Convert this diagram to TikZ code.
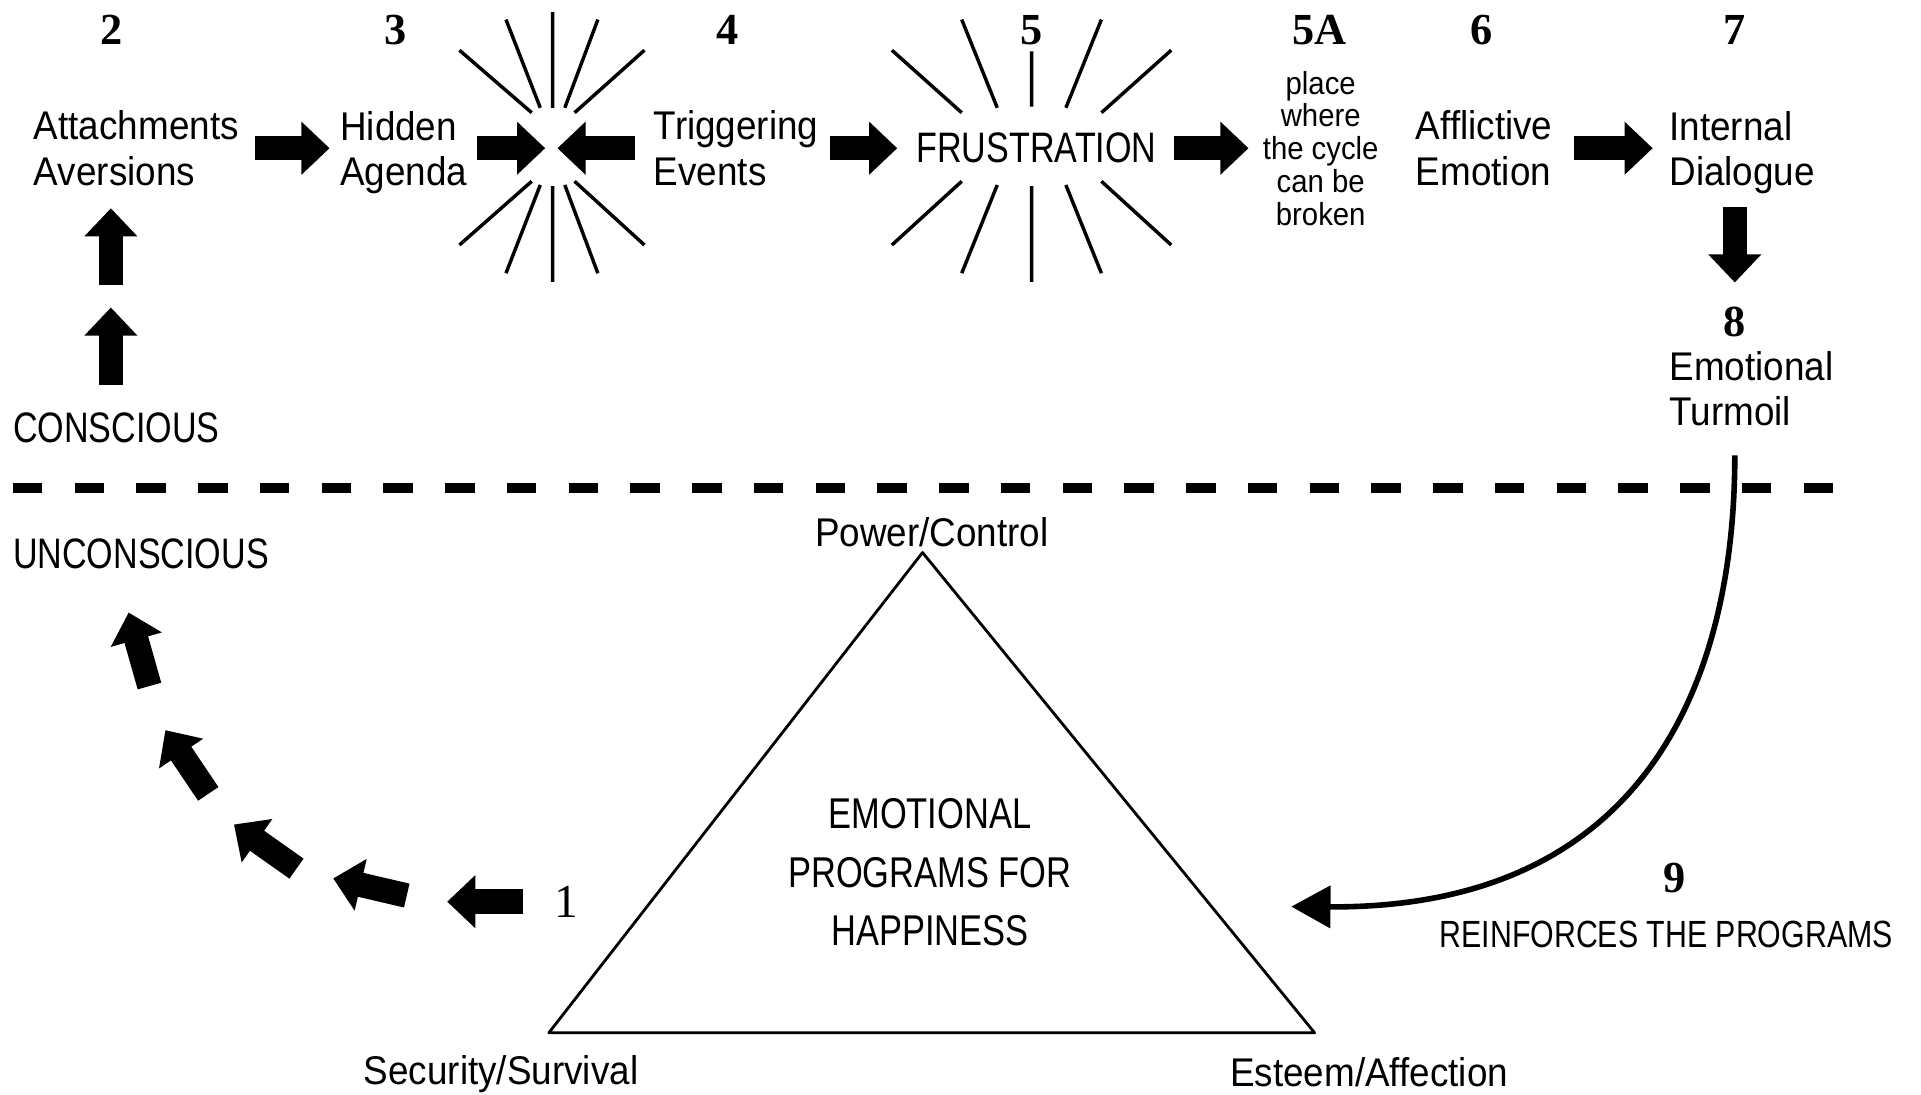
\documentclass[tikz,border=0pt]{standalone}
\usepackage{fontspec}
\setmainfont{Liberation Sans}[FakeStretch=0.92]
\newfontfamily\capfont{Liberation Sans}[FakeStretch=0.80]
\newfontfamily\numfont{Liberation Serif}
\usetikzlibrary{arrows.meta,calc}
\usepackage{tkz-euclide}
\definecolor{InkClr}{rgb}{0,0,0}

\begin{document}
\begin{tikzpicture}[
  lbl/.style={inner sep=0pt,anchor=west,align=left,font=\fontsize{9.3}{10.5}\selectfont},
  caplbl/.style={inner sep=0pt,font=\capfont\fontsize{9.9}{11}\selectfont},
  num/.style={inner sep=0pt,font=\numfont\bfseries\fontsize{10.3}{12}\selectfont},
  ray/.style={line width=.8pt,color=InkClr},
  bigarrow/.style={line width=2mm,color=InkClr,-{Triangle[length=2.3mm,width=4.2mm]}}]
\useasboundingbox (0,0) rectangle (15.68,-8.93);
\tkzSetUpLine[line width=.65pt,color=InkClr]

\tkzDefPoints{7.53/-4.51/P,4.48/-8.43/S,10.73/-8.43/E}
\tkzDefPoints{0.905/-3.14/U1,0.905/-2.51/U2,0.905/-2.33/U3,0.905/-1.70/U4}
\tkzDefPoints{4.27/-7.36/K1,3.65/-7.36/K2,3.32/-7.31/K3,2.72/-7.17/K4,2.42/-7.09/K5,1.91/-6.73/K6,1.70/-6.48/K7,1.35/-5.96/K8,1.22/-5.60/K9,1.05/-5.00/K10}
\coordinate (b1) at (4.51,-1.21);
\coordinate (T9) at (10.54,-7.40);
\coordinate (L1) at (0.106,-3.98);
\coordinate (L2) at (14.97,-3.98);

\node[num] (n2) at (0.91,-0.245) {2};
\node[num] (n3) at (3.225,-0.245) {3};
\node[num] (n4) at (5.94,-0.245) {4};
\node[num] (n5) at (8.42,-0.245) {5};
\node[num] (n5A) at (10.77,-0.245) {5A};
\node[num] (n6) at (12.09,-0.245) {6};
\node[num] (n7) at (14.16,-0.245) {7};
\node[num] (n8) at (14.16,-2.625) {8};
\node[num] (n9) at (13.665,-7.165) {9};
\node[num,font=\numfont\fontsize{11}{12}\selectfont] (n1) at (4.62,-7.36) {1};

\node[lbl] (att) at (0.27,-1.21) {Attachments\\Aversions};
\node[lbl] (hid) at (2.77,-1.245) {Hidden\\Agenda};
\node[lbl] (trig) at (5.33,-1.21) {Triggering\\Events};
\node[caplbl] (frus) at (8.46,-1.21) {FRUSTRATION};
\node[lbl,anchor=center,align=center,font=\fontsize{7.4}{7.6}\selectfont] (place) at (10.78,-1.21) {place\\where\\the cycle\\can be\\broken};
\node[lbl] (aff) at (11.55,-1.21) {Afflictive\\Emotion};
\node[lbl] (intd) at (13.62,-1.245) {Internal\\Dialogue};
\node[lbl] (turm) at (13.62,-3.175) {Emotional\\Turmoil};
\node[caplbl,anchor=west] (consc) at (0.10,-3.495) {CONSCIOUS};
\node[caplbl,anchor=west] (uncon) at (0.10,-4.52) {UNCONSCIOUS};
\node[lbl,anchor=center] (power) at (7.605,-4.34) {Power/Control};
\node[lbl,anchor=center] (secur) at (4.09,-8.77) {Security/Survival};
\node[lbl,anchor=center] (esteem) at (11.175,-8.755) {Esteem/Affection};
\node[caplbl,align=center,font=\capfont\fontsize{10}{13.6}\selectfont] (prog) at (7.59,-7.12) {EMOTIONAL\\PROGRAMS FOR\\HAPPINESS};
\node[caplbl,font=\capfont\fontsize{8.8}{10}\selectfont] (reinf) at (13.60,-7.63) {REINFORCES THE PROGRAMS};

\draw[ray] (4.13,-0.16) -- (4.41,-0.88) (3.75,-0.41) -- (4.34,-0.92) (4.51,-0.10) -- (4.51,-0.88)
  (4.88,-0.16) -- (4.61,-0.88) (5.26,-0.41) -- (4.69,-0.92)
  (3.75,-2.00) -- (4.34,-1.48) (4.13,-2.23) -- (4.41,-1.51) (4.51,-2.30) -- (4.51,-1.52)
  (4.88,-2.23) -- (4.61,-1.51) (5.26,-2.00) -- (4.69,-1.48);
\draw[ray] (7.28,-0.41) -- (7.85,-0.92) (7.85,-0.16) -- (8.14,-0.88) (8.42,-0.42) -- (8.42,-0.87)
  (8.99,-0.16) -- (8.70,-0.88) (9.56,-0.41) -- (8.99,-0.92)
  (7.28,-2.00) -- (7.85,-1.48) (7.85,-2.23) -- (8.14,-1.51) (8.42,-2.30) -- (8.42,-1.52)
  (8.99,-2.23) -- (8.70,-1.51) (9.56,-2.00) -- (8.99,-1.48);

\draw[bigarrow,shorten <=1.3mm,shorten >=.8mm] (att.east) -- (hid.west |- att.east);
\draw[bigarrow,shorten <=.75mm,shorten >=.6mm] (hid.east |- b1) -- (b1);
\draw[bigarrow,shorten <=1.5mm,shorten >=.4mm] (trig.west) -- (b1);
\draw[bigarrow,shorten <=.9mm,shorten >=1.5mm] (trig.east) -- (frus.west);
\draw[bigarrow,shorten <=1.4mm,shorten >=1.1mm] (frus.east) -- (place.west);
\draw[bigarrow,shorten <=1.7mm,shorten >=1.3mm] (aff.east) -- (intd.west |- aff.east);
\draw[bigarrow,shorten <=1mm,shorten >=1.9mm] (intd.south -| n8) -- (n8.north);

\draw[bigarrow] (U1) -- (U2);
\draw[bigarrow] (U3) -- (U4);
\draw[bigarrow] (K1) -- (K2);
\draw[bigarrow] (K3) -- (K4);
\draw[bigarrow] (K5) -- (K6);
\draw[bigarrow] (K7) -- (K8);
\draw[bigarrow] (K9) -- (K10);

\draw[line width=2.3pt,color=InkClr,dash pattern=on 2.4mm off 2.64mm] (L1) -- (L2);

\tkzDrawPolygon(P,S,E)

\draw[line width=1.3pt,color=InkClr,-{Triangle[length=3.2mm,width=3.4mm]},shorten <=2.3mm]
  (turm.south -| n8) .. controls (14.16,-5.6) and (13.4,-7.42) .. (T9);

\end{tikzpicture}
\end{document}
